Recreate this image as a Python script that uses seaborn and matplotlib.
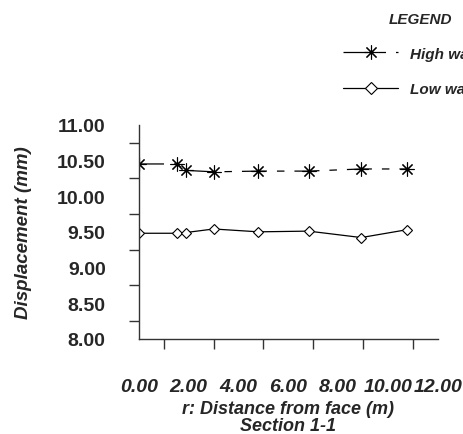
import matplotlib
matplotlib.use("Agg")
import matplotlib.pyplot as plt
import seaborn as sns
import numpy as np
from matplotlib.lines import Line2D
from matplotlib.ticker import MultipleLocator, FormatStrFormatter

distance = [0.0, 1.51, 1.88, 3.0, 4.8, 6.81, 8.93, 10.77]
high_water = [10.45, 10.45, 10.36, 10.34, 10.35, 10.35, 10.38, 10.38]
low_water = [9.48, 9.48, 9.49, 9.54, 9.50, 9.51, 9.42, 9.53]
series_names = ["High water level", "Low water level"]
x_ticks = [0, 2, 4, 6, 8, 10, 12]
y_ticks = [8.0, 8.5, 9.0, 9.5, 10.0, 10.5, 11.0]

sns.set_theme(style="white")
plt.rcParams['font.family'] = ['Liberation Sans', 'DejaVu Sans']

fig = plt.figure(figsize=(4.64, 4.35), dpi=100)
ax = fig.add_axes([0.2996, 0.2184, 0.6437, 0.4927])

high_ls = (0, (20, 8, 6, 8))
star = (8, 2, 0)
sns.lineplot(x=distance, y=high_water, ax=ax, color='black', lw=0.9,
             linestyle=high_ls, marker=star, markersize=10, markeredgewidth=0.8,
             markeredgecolor='black', markerfacecolor='black')
sns.lineplot(x=distance, y=low_water, ax=ax, color='black', lw=0.9,
             marker='D', markersize=5.5, markeredgewidth=0.8,
             markeredgecolor='black', markerfacecolor='white')

ax.set_xlim(0, 12)
ax.set_ylim(8.0, 11.0)
ax.set_xticks(x_ticks)
ax.set_yticks(y_ticks)
ax.xaxis.set_minor_locator(MultipleLocator(1))
ax.yaxis.set_minor_locator(MultipleLocator(0.25))
ax.xaxis.set_major_formatter(FormatStrFormatter('%.2f'))
ax.yaxis.set_major_formatter(FormatStrFormatter('%.2f'))

for s in ['top', 'right']:
    ax.spines[s].set_visible(False)
for s in ['left', 'bottom']:
    ax.spines[s].set_color('#333333')
    ax.spines[s].set_linewidth(1.0)

ax.tick_params(axis='x', which='major', direction='out', length=15, width=1.0,
               color='#333333', pad=13, labelsize=14)
ax.tick_params(axis='x', which='minor', direction='out', length=7.5, width=1.0,
               color='#333333', bottom=True)
ax.tick_params(axis='y', which='major', direction='out', length=18, width=1.0,
               color='#333333', pad=6, labelsize=14)
ax.tick_params(axis='y', which='minor', direction='out', length=7.5, width=1.0,
               color='#333333', left=True)
for lab in ax.get_xticklabels():
    lab.set_fontweight('bold')
    lab.set_fontstyle('italic')
for lab in ax.get_yticklabels():
    lab.set_fontweight('bold')

ax.set_xlabel("r: Distance from face (m)\nSection 1-1", fontsize=13,
              fontweight='bold', fontstyle='italic', labelpad=4, linespacing=0.95)
ax.set_ylabel("Displacement (mm)", fontsize=13.5, fontweight='bold',
              fontstyle='italic', labelpad=18)

handles = [
    Line2D([], [], color='black', lw=0.9, linestyle=high_ls, marker=star,
           markersize=10, markeredgewidth=0.8),
    Line2D([], [], color='black', lw=0.9, marker='D', markersize=6,
           markeredgewidth=0.8, markerfacecolor='white'),
]
leg = fig.legend(handles, series_names, loc='upper left',
                 bbox_to_anchor=(0.71, 0.922), frameon=False,
                 handlelength=3.6, handletextpad=0.8,
                 labelspacing=1.4,
                 prop={'weight': 'bold', 'style': 'italic', 'size': 11})
fig.text(420 / 464, 1 - 20 / 435, "LEGEND", ha='center', va='center',
         fontsize=11, fontweight='bold', fontstyle='italic')

fig.savefig("out.png", dpi=100)
